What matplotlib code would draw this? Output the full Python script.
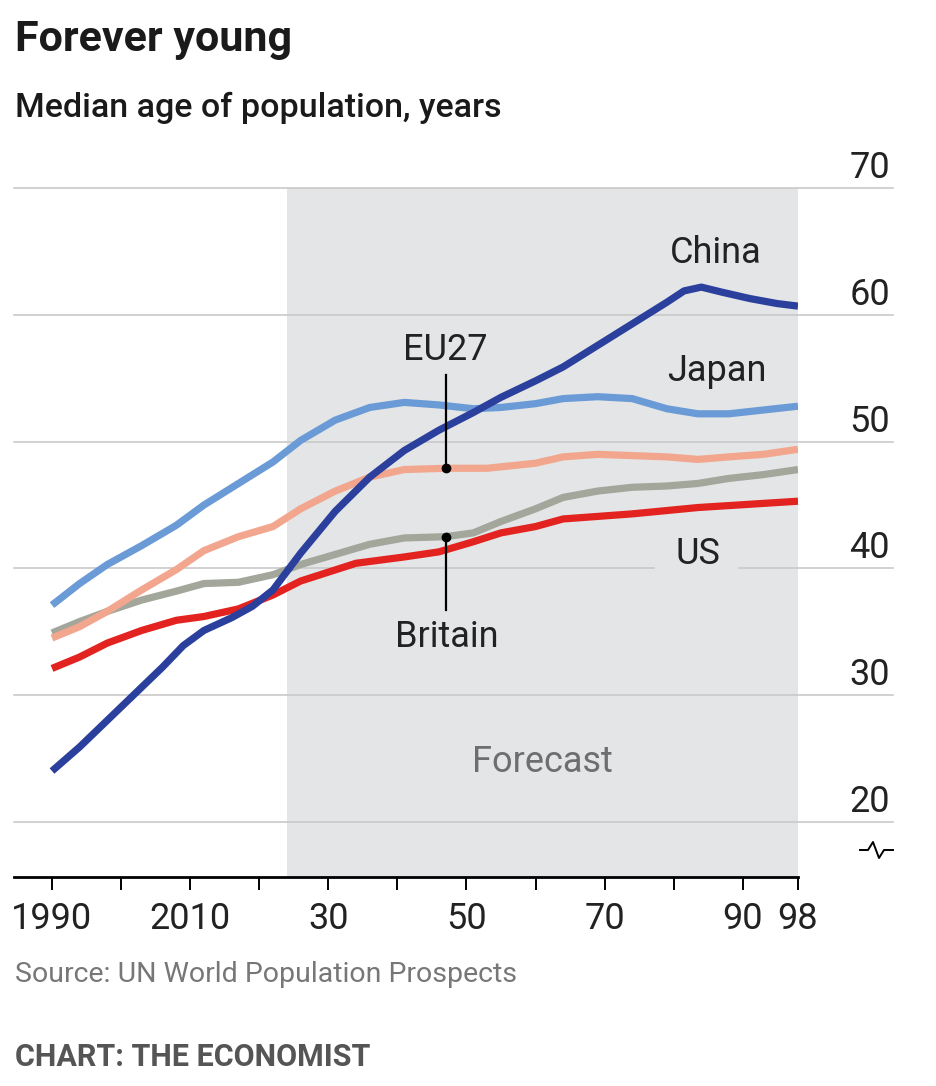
import matplotlib
matplotlib.use('Agg')
import matplotlib.pyplot as plt
from matplotlib.lines import Line2D

# 数据
china_years = [1990, 1994, 1998, 2002, 2006, 2009, 2012, 2016, 2019, 2022, 2026, 2031, 2036, 2041, 2046,
               2051, 2055, 2060, 2064, 2069, 2074, 2079, 2081.5, 2084, 2087, 2091, 2095, 2098]
china_age = [24.0, 25.9, 28.0, 30.1, 32.2, 33.9, 35.1, 36.1, 37.0, 38.3, 41.2, 44.5, 47.2, 49.3, 50.9,
             52.3, 53.5, 54.8, 55.9, 57.6, 59.3, 61.0, 61.9, 62.2, 61.8, 61.3, 60.9, 60.7]

japan_years = [1990, 1994, 1998, 2003, 2008, 2012, 2017, 2022, 2026, 2031, 2036, 2041, 2046, 2051,
               2055, 2060, 2064, 2069, 2074, 2079, 2083.5, 2088, 2093, 2098]
japan_age = [37.1, 38.8, 40.3, 41.8, 43.4, 45.0, 46.7, 48.4, 50.1, 51.7, 52.7, 53.1, 52.9, 52.6,
             52.7, 53.0, 53.4, 53.55, 53.4, 52.6, 52.2, 52.2, 52.5, 52.8]

eu_years = [1990, 1994, 1998, 2003, 2008, 2012, 2017, 2022, 2026, 2031, 2036, 2041, 2047, 2053,
            2060, 2064, 2069, 2074, 2079, 2083.5, 2088, 2093, 2098]
eu_age = [34.5, 35.4, 36.6, 38.3, 39.9, 41.4, 42.5, 43.3, 44.7, 46.1, 47.2, 47.8, 47.9, 47.9,
          48.3, 48.8, 49.0, 48.9, 48.8, 48.6, 48.8, 49.0, 49.4]

uk_years = [1990, 1994, 1998, 2003, 2008, 2012, 2017, 2022, 2026, 2031, 2036, 2041, 2047, 2051,
            2055, 2060, 2064, 2069, 2074, 2079, 2083.5, 2088, 2093, 2098]
uk_age = [34.9, 35.8, 36.6, 37.5, 38.2, 38.8, 38.9, 39.5, 40.3, 41.1, 41.9, 42.4, 42.5, 42.8,
          43.7, 44.7, 45.6, 46.1, 46.4, 46.5, 46.7, 47.1, 47.4, 47.8]

us_years = [1990, 1994, 1998, 2003, 2008, 2012, 2017, 2022, 2026, 2034, 2041, 2046, 2051, 2055,
            2060, 2064, 2074, 2083.5, 2098]
us_age = [32.1, 33.0, 34.1, 35.1, 35.9, 36.2, 36.8, 37.9, 39.0, 40.4, 40.9, 41.3, 42.1, 42.8,
          43.3, 43.9, 44.3, 44.8, 45.3]

yticks = [20, 30, 40, 50, 60, 70]
xticks = [1990, 2000, 2010, 2020, 2030, 2040, 2050, 2060, 2070, 2080, 2090, 2098]
xlabels = ['1990', '', '2010', '', '30', '', '50', '', '70', '', '90', '98']

plt.rcParams['font.family'] = ['Roboto', 'DejaVu Sans']

W, H = 936, 1086
fig = plt.figure(figsize=(W / 100, H / 100), dpi=100)
ax = fig.add_axes([14 / W, 1 - 876.7 / H, (798 - 14) / W, (876.7 - 188.3) / H])

x0, x1 = 1984.5, 2098
ax.set_xlim(x0, x1)
ax.set_ylim(15.66, 70)
grid_end = 2111.8

# 预测区域
ax.axvspan(2024, 2098, color='#e4e5e7', lw=0, zorder=0)

# 网格线（延伸到右侧标签下方）
us_gap = (2077.1, 2089.4)
for v in yticks:
    if v == 40:
        ax.plot([x0, us_gap[0]], [v, v], color='#c9c9c9', lw=1.2, clip_on=False, zorder=1)
        ax.plot([us_gap[1], grid_end], [v, v], color='#c9c9c9', lw=1.2, clip_on=False, zorder=1)
    else:
        ax.plot([x0, grid_end], [v, v], color='#c9c9c9', lw=1.2, clip_on=False, zorder=1)
    ax.text(2111.3, v + 0.8, str(v), ha='right', va='baseline', fontsize=26, color='#222222')

# 曲线
lw = 5.2
style = dict(lw=lw, solid_capstyle='butt', solid_joinstyle='round')
ax.plot(uk_years, uk_age, color='#a3a69b', zorder=3, **style)
ax.plot(us_years, us_age, color='#e3231f', zorder=3, **style)
ax.plot(eu_years, eu_age, color='#f2a68e', zorder=3, **style)
ax.plot(japan_years, japan_age, color='#6b9bd6', zorder=3, **style)
ax.plot(china_years, china_age, color='#2b3f9c', zorder=4, **style)

# 标注
ax.text(2086.1, 64.9, 'China', ha='center', va='center', fontsize=26, color='#222222')
ax.text(2086.2, 55.6, 'Japan', ha='center', va='center', fontsize=26, color='#222222')
ax.text(2083.5, 41.1, 'US', ha='center', va='center', fontsize=26, color='#222222')
ax.text(2047.0, 57.2, 'EU27', ha='center', va='center', fontsize=26, color='#222222')
ax.text(2047.1, 34.6, 'Britain', ha='center', va='center', fontsize=26, color='#222222')
ax.text(2061.0, 24.7, 'Forecast', ha='center', va='center', fontsize=26, color='#6e6e6e')

ax.plot([2047, 2047], [55.3, 47.9], color='black', lw=1.6, zorder=5)
ax.plot([2047], [47.9], 'o', color='black', ms=6, zorder=5)
ax.plot([2047.1, 2047.1], [42.5, 36.7], color='black', lw=1.6, zorder=5)
ax.plot([2047.1], [42.5], 'o', color='black', ms=6, zorder=5)

# 坐标轴
for s in ['top', 'right', 'left']:
    ax.spines[s].set_visible(False)
ax.spines['bottom'].set_linewidth(2)
ax.set_yticks([])
ax.set_xticks(xticks)
ax.set_xticklabels(xlabels, fontsize=26, color='#222222')
ax.tick_params(axis='x', length=9.5, width=1.4, pad=8, direction='out')
ax.set_facecolor('none')

# 断轴符号
bx = [860, 868, 873, 879, 884, 893]
by = [850, 850, 842, 858, 850, 850]
fig.add_artist(Line2D([v / W for v in bx], [1 - v / H for v in by], color='black', lw=1.4,
                      transform=fig.transFigure))

# 标题
fig.text(15 / W, 1 - 40 / H, 'Forever young', fontsize=31, fontweight='bold', va='center', color='#1a1a1a')
fig.text(15 / W, 1 - 108 / H, 'Median age of population, years', fontsize=24.5, fontweight='medium',
         va='center', color='#1a1a1a')
fig.text(15 / W, 1 - 975 / H, 'Source: UN World Population Prospects', fontsize=20.5, va='center', color='#777777')
fig.text(15 / W, 1 - 1057 / H, 'CHART: THE ECONOMIST', fontsize=22, fontweight='bold', va='center', color='#555555')

plt.savefig('out.png', dpi=100)
plt.close()
